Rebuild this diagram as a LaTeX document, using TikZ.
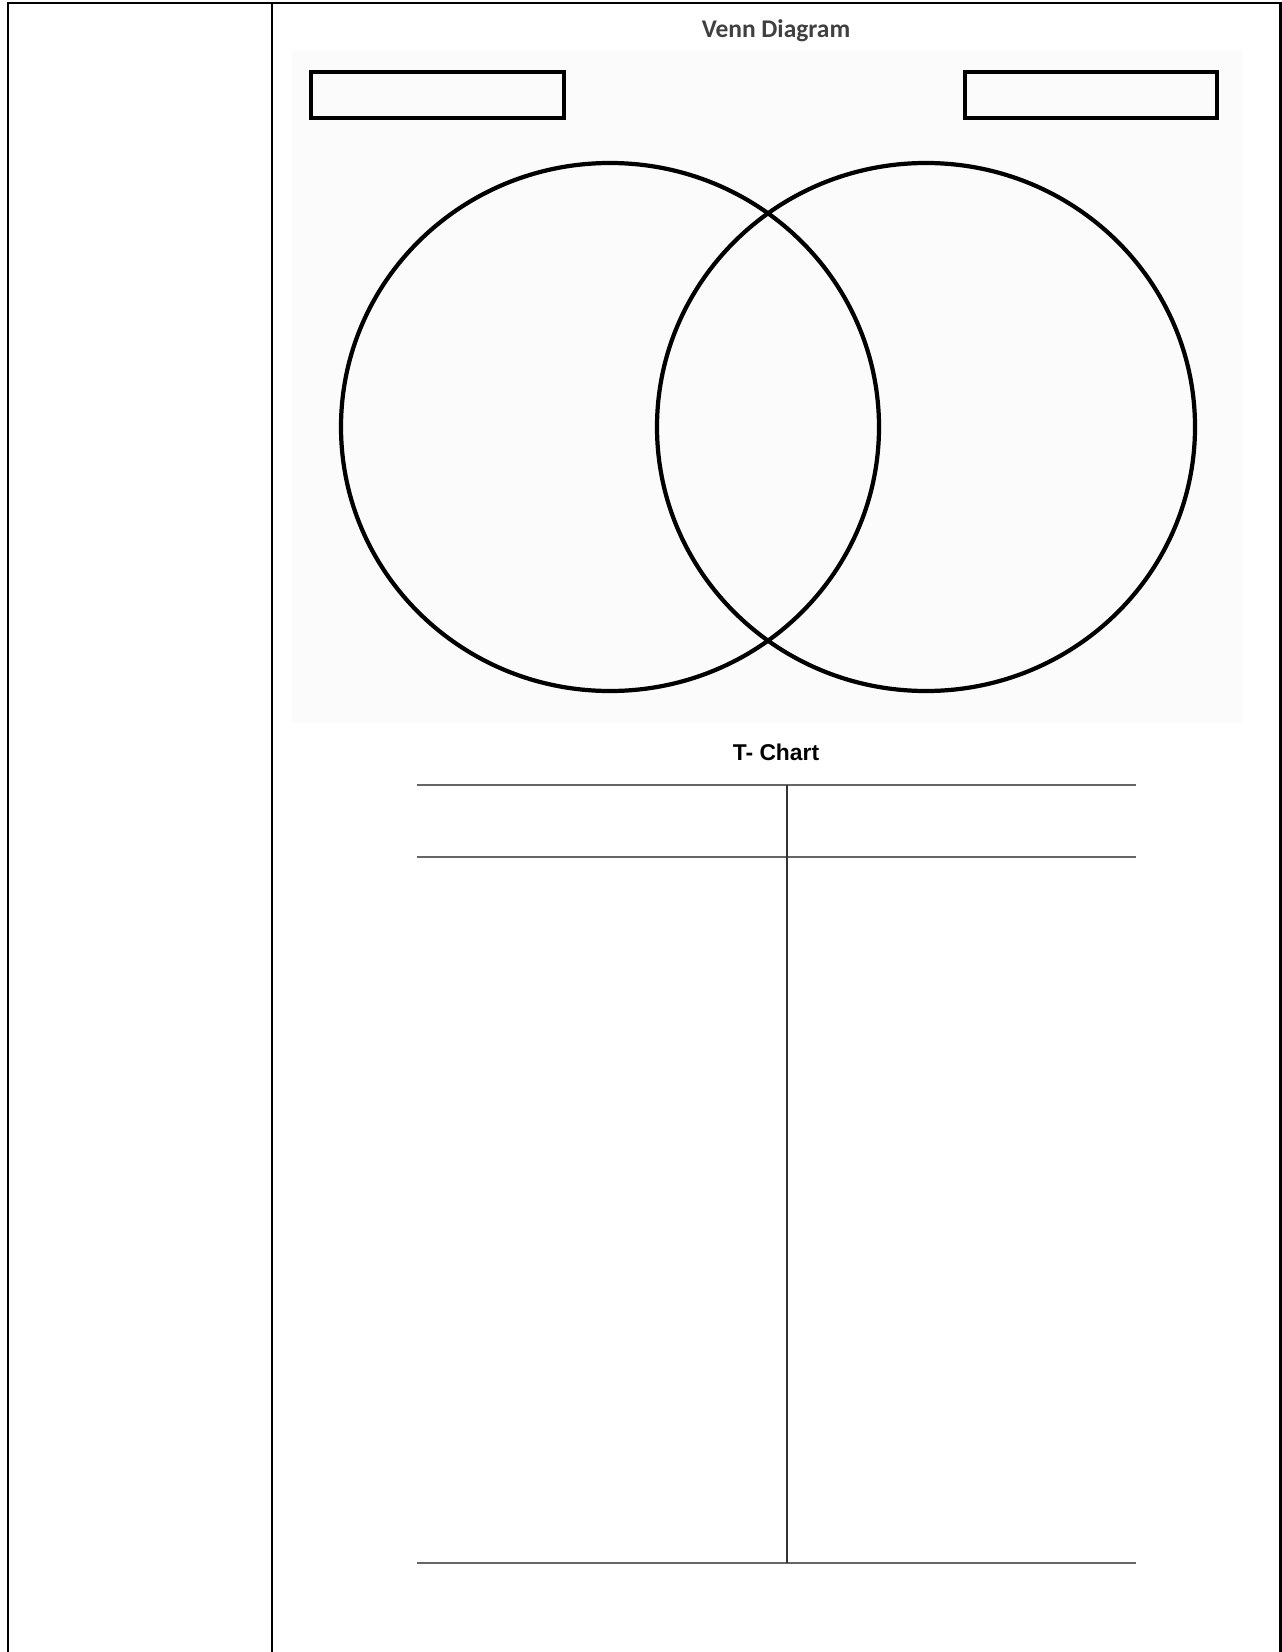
\documentclass[tikz,border=0pt]{standalone}
\usepackage{fontspec}
\newfontfamily\calibrifont{Carlito}
\newfontfamily\arialfont{Liberation Sans}
\begin{document}
\begin{tikzpicture}[x=0.02cm,y=-0.02cm,line width=1.7pt,
  labelbox/.style={draw,line width=2.4pt},
  venncircle/.style={draw,line width=2.4pt},
  tline/.style={draw=black!60,line width=1.4pt}]
\useasboundingbox (0,0) rectangle (1281,1652);
\def\rx{269}
\def\ry{264}
\draw (8,1652) -- (8,3) -- (1280,3) -- (1280,1652);
\draw (272,3) -- (272,1652);
\fill[black!1.5] (292,50) rectangle (1242,723);
\node[text=black!75,font=\calibrifont\bfseries\fontsize{14.5}{17}\selectfont] (venntitle) at (776,31) {Venn Diagram};
\draw[labelbox] (311,72) rectangle (564,118);
\draw[labelbox] (965,72) rectangle (1217,118);
\draw[venncircle] (610,427) ellipse [x radius=\rx, y radius=\ry];
\draw[venncircle] (926,427) ellipse [x radius=\rx, y radius=\ry];
\node[font=\arialfont\bfseries\fontsize{13}{15}\selectfont] (ttitle) at (776,752) {T- Chart};
\coordinate (topl) at (417,785);
\coordinate (topr) at (1136,785);
\coordinate (midl) at (417,857);
\coordinate (midr) at (1136,857);
\coordinate (botl) at (417,1563);
\coordinate (botr) at (1136,1563);
\coordinate (vtop) at (787,785);
\coordinate (vbot) at (787,1563);
\draw[tline] (topl) -- (topr);
\draw[tline] (midl) -- (midr);
\draw[tline] (botl) -- (botr);
\draw[tline,draw=black!80] (vtop) -- (vbot);
\end{tikzpicture}
\end{document}
